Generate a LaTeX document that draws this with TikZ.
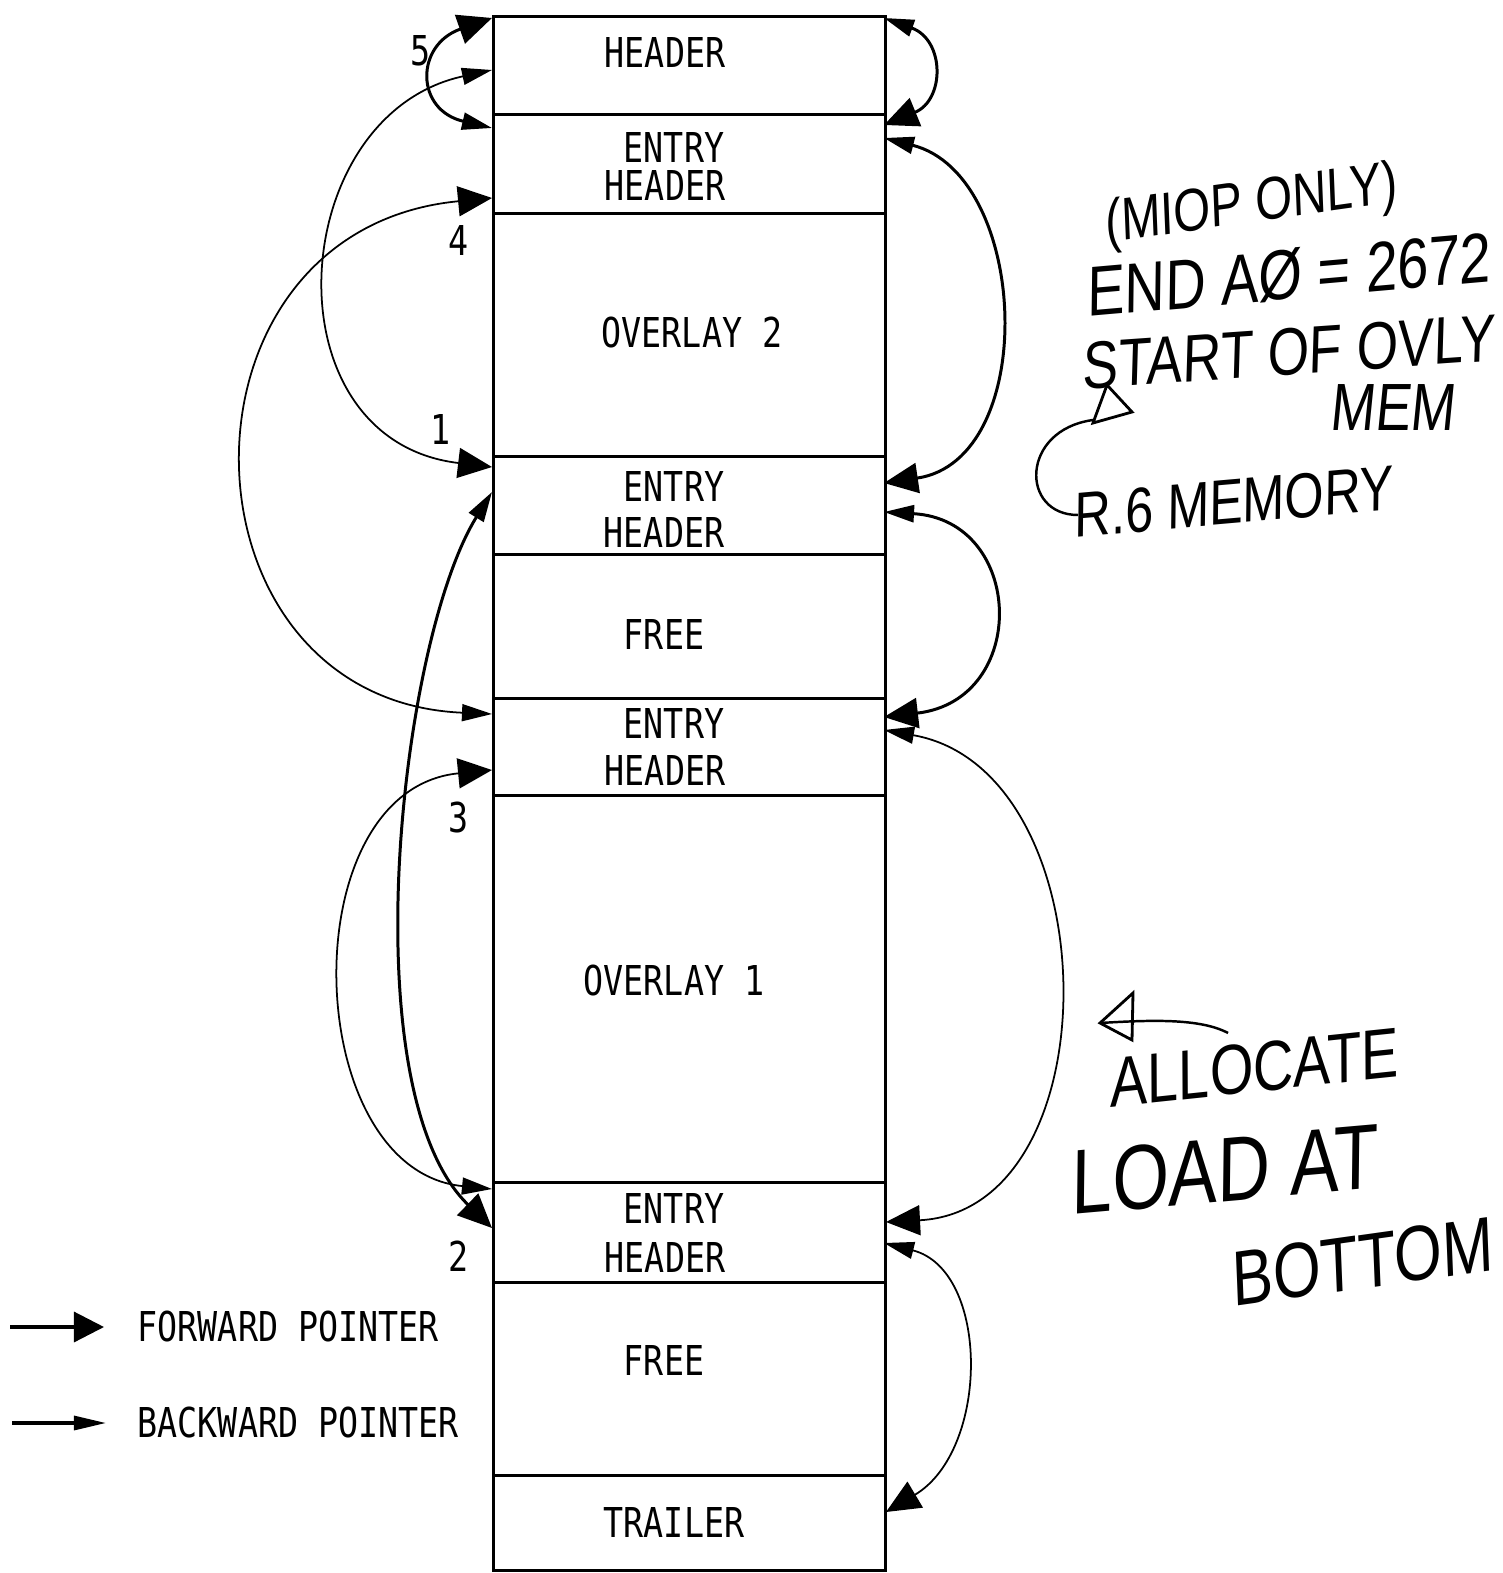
\documentclass[tikz,border=0pt]{standalone}
\usepackage{fontspec}
\usetikzlibrary{arrows.meta}
\newfontfamily\plotfont[FakeStretch=0.81]{DejaVu Sans Mono}
\newfontfamily\handfont[FakeSlant=0.1,FakeStretch=0.8]{Liberation Sans}
\tikzset{
  seg/.style={draw,line width=0.9pt,minimum width=3.92cm,inner sep=0pt,anchor=north west},
  lbl/.style={font=\plotfont\fontsize{11.7}{14}\selectfont,inner sep=0pt},
  hand/.style={font=\handfont\fontsize{#1}{#1}\selectfont,inner sep=0pt},
  link/.style={arrows={Triangle[length=0.3cm,width=0.17cm]-Triangle[length=0.34cm,width=0.3cm]}},
  heavy/.style={line width=0.85pt},
  light/.style={line width=0.5pt}
}
\begin{document}
\begin{tikzpicture}[x=0.01cm,y=-0.01cm]
\useasboundingbox (0,0) rectangle (1502,1573);
% --- memory column ---
\node[seg,minimum height=0.98cm] (hdr) at (492,15) {};
\node[seg,minimum height=0.99cm] (eh1) at (492,113) {};
\node[seg,minimum height=2.43cm] (ov2) at (492,212) {};
\node[seg,minimum height=0.98cm] (eh2) at (492,455) {};
\node[seg,minimum height=1.44cm] (fr2) at (492,553) {};
\node[seg,minimum height=0.97cm] (eh3) at (492,697) {};
\node[seg,minimum height=3.87cm] (ov1) at (492,794) {};
\node[seg,minimum height=1.00cm] (eh4) at (492,1181) {};
\node[seg,minimum height=1.93cm] (fr1) at (492,1281) {};
\node[seg,minimum height=0.95cm] (trl) at (492,1474) {};
% --- texts in the column ---
\node[lbl] (hdrT) at (665,53) {HEADER};
\node[lbl] (eh1a) at (674,148) {ENTRY};
\node[lbl] (eh1b) at (665,186) {HEADER};
\node[lbl] (ov2T) at (692,333) {OVERLAY 2};
\node[lbl] (eh2a) at (674,487) {ENTRY};
\node[lbl] (eh2b) at (664,533) {HEADER};
\node[lbl] (fr2T) at (664,634) {FREE};
\node[lbl] (eh3a) at (674,723) {ENTRY};
\node[lbl] (eh3b) at (665,770) {HEADER};
\node[lbl] (ov1T) at (674,981) {OVERLAY 1};
\node[lbl] (eh4a) at (674,1208) {ENTRY};
\node[lbl] (eh4b) at (665,1257) {HEADER};
\node[lbl] (fr1T) at (664,1360) {FREE};
\node[lbl] (trlT) at (674,1522) {TRAILER};
% --- pointer ends ---
\coordinate (f5s) at (492,128); \coordinate (f5e) at (492,18);
\coordinate (f1s) at (492,70);  \coordinate (f1e) at (492,467);
\coordinate (f4s) at (492,714); \coordinate (f4e) at (492,198);
\coordinate (f2s) at (492,492); \coordinate (f2e) at (492,1228);
\coordinate (f3s) at (492,1189); \coordinate (f3e) at (492,770);
\coordinate (b1s) at (884,18);  \coordinate (b1e) at (884,125);
\coordinate (b2s) at (884,138); \coordinate (b2e) at (884,483);
\coordinate (b3s) at (884,512); \coordinate (b3e) at (884,717);
\coordinate (b4s) at (884,730); \coordinate (b4e) at (886,1222);
\coordinate (b5s) at (884,1243); \coordinate (b5e) at (886,1512);
% --- left pointers ---
\draw[link,heavy] (f5s) .. controls (415,110) and (415,45) .. (f5e);
\draw[link,light] (f1s) .. controls (285,115) and (265,440) .. (f1e);
\draw[link,light] (f4s) .. controls (170,700) and (160,230) .. (f4e);
\draw[link,heavy] (f2s) .. controls (400,640) and (350,1090) .. (f2e);
\draw[link,light] (f3s) .. controls (300,1170) and (290,790) .. (f3e);
\node[lbl] (n5) at (421,51) {5};
\node[lbl] (n4) at (459,241) {4};
\node[lbl] (n1) at (441,430) {1};
\node[lbl] (n3) at (459,818) {3};
\node[lbl] (n2) at (459,1256) {2};
% --- right pointers ---
\draw[link,heavy] (b1s) .. controls (945,40) and (945,100) .. (b1e);
\draw[link,heavy] (b2s) .. controls (1030,175) and (1040,460) .. (b2e);
\draw[link,heavy] (b3s) .. controls (1025,520) and (1030,700) .. (b3e);
\draw[link,light] (b4s) .. controls (1110,770) and (1115,1210) .. (b4e);
\draw[link,light] (b5s) .. controls (990,1270) and (990,1450) .. (b5e);
% --- legend ---
\coordinate (fwdA) at (10,1327); \coordinate (fwdB) at (104,1327);
\coordinate (bwdA) at (12,1423); \coordinate (bwdB) at (106,1423);
\draw[line width=0.9pt,-{Triangle[length=0.3cm,width=0.3cm]}] (fwdA) -- (fwdB);
\draw[line width=0.9pt,-{Triangle[length=0.32cm,width=0.14cm]}] (bwdA) -- (bwdB);
\node[lbl,anchor=west] (fwdT) at (137,1327) {FORWARD POINTER};
\node[lbl,anchor=west] (bwdT) at (137,1423) {BACKWARD POINTER};
% --- handwritten notes ---
\node[hand=17,rotate=8] (miop) at (1250,207) {(MIOP ONLY)};
\node[hand=20,rotate=5] (endA) at (1287,275) {END AØ = 2672};
\node[hand=19,rotate=4] (start) at (1287,352) {START OF OVLY};
\node[hand=19] (mem) at (1392,408) {MEM};
\node[hand=18,rotate=5] (rmem) at (1232,502) {R.6 MEMORY};
\draw[line width=0.8pt] (1107,385) -- (1093,423) -- (1132,412) -- cycle;
\draw[line width=0.7pt] (1078,515) .. controls (1020,515) and (1020,430) .. (1093,420);
\draw[line width=0.8pt] (1100,1023) -- (1133,993) -- (1132,1040) -- cycle;
\draw[line width=0.7pt] (1100,1023) .. controls (1150,1020) and (1200,1018) .. (1228,1033);
\node[hand=20,rotate=6] (alloc) at (1252,1068) {ALLOCATE};
\node[hand=26,rotate=5] (load) at (1222,1170) {LOAD AT};
\node[hand=22,rotate=8] (bot) at (1360,1262) {BOTTOM};
\end{tikzpicture}
\end{document}
